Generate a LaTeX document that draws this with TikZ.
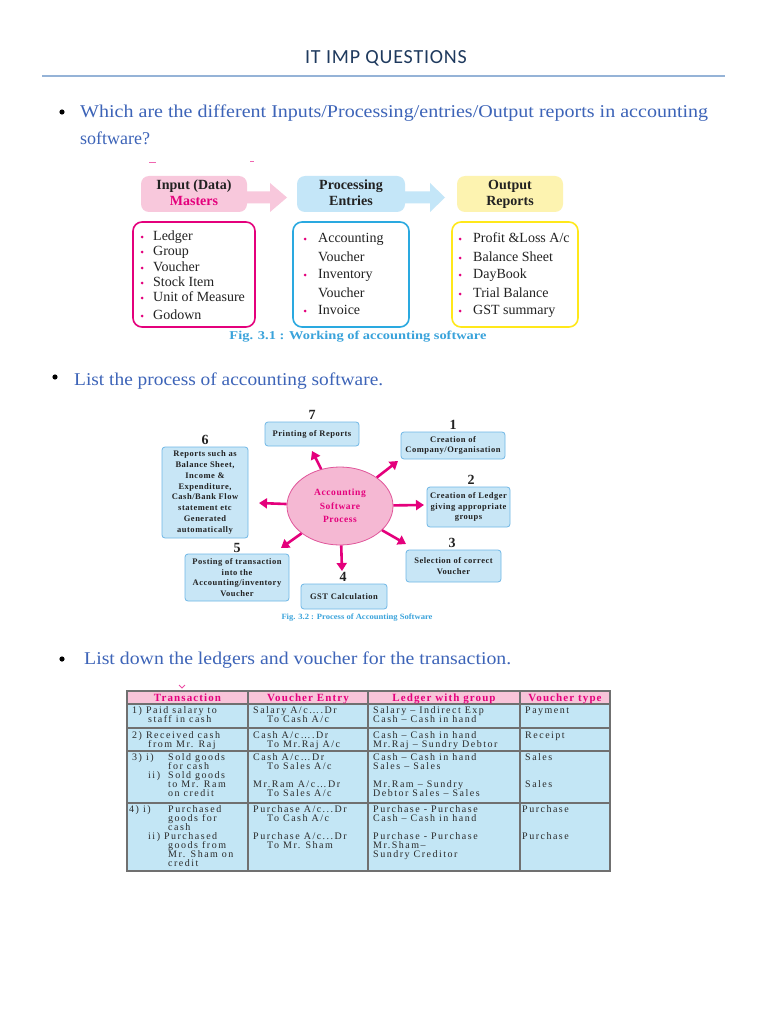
\documentclass[tikz,border=0pt]{standalone}
\usepackage{fontspec}
\setmainfont{Liberation Serif}
\newfontfamily\titlefont[LetterSpace=4]{Carlito}
\newfontfamily\tabfont[LetterSpace=15]{Liberation Serif}
\newfontfamily\tabhfont[LetterSpace=10]{Liberation Serif}
\newfontfamily\figfont[LetterSpace=6]{Liberation Serif}
\usetikzlibrary{arrows.meta,shapes.geometric}
\definecolor{titlec}{HTML}{1F3A5E}
\definecolor{rulec}{HTML}{95B3D7}
\definecolor{qblue}{HTML}{3D64B8}
\definecolor{magenta2}{HTML}{E4007C}
\definecolor{pinkfill}{HTML}{F8C8DC}
\definecolor{hblue}{HTML}{C4E6F8}
\definecolor{cyanb}{HTML}{2AA9E0}
\definecolor{yfill}{HTML}{FDF3B0}
\definecolor{yborder}{HTML}{FFE81A}
\definecolor{capblue}{HTML}{3AA3DB}
\definecolor{boxfill}{HTML}{C8E6F6}
\definecolor{boxblue}{HTML}{6FB7E6}
\definecolor{ellfill}{HTML}{F5B8D3}
\definecolor{elldraw}{HTML}{E0559A}
\definecolor{tabfill}{HTML}{C3E6F5}
\definecolor{thfill}{HTML}{F8C4D9}
\definecolor{tabline}{HTML}{707070}
\definecolor{tabtxt}{HTML}{2A2A2A}
\definecolor{txtdark}{HTML}{222222}
\newcommand\tabc[4]{\node[tcell] (#1) at (#2,#3+3.3) {#4};}
\newcommand\mylist[4]{\node[listtxt] (#1) at (#2,#3+4.5) {#4};}
\tikzset{
  qtext/.style={anchor=base west, inner sep=0, text=qblue, font=\fontsize{18}{20}\selectfont},
  listtxt/.style={anchor=base west, inner sep=0, text=txtdark, font=\fontsize{14}{16}\selectfont},
  hdr/.style={rounded corners=8pt, minimum width=106pt, minimum height=36pt, align=center, inner sep=0, text=txtdark, font=\fontsize{14}{16.5}\selectfont\bfseries},
  listbox/.style={draw, line width=1.6pt, rounded corners=9pt, inner sep=0},
  fbox/.style={draw=boxblue, fill=boxfill, rounded corners=3pt, line width=0.8pt, align=center, inner sep=0, text=txtdark, font=\figfont\bfseries\fontsize{8.5}{10.8}\selectfont},
  numlab/.style={inner sep=0, text=txtdark, font=\fontsize{14}{14}\selectfont\bfseries},
  parr/.style={line width=2.6pt, draw=magenta2, -{Triangle[width=10pt,length=8pt]}},
  tcell/.style={anchor=base west, inner sep=0, text height=6.5pt, text depth=1pt, text=tabtxt, font=\tabfont\fontsize{10}{11}\selectfont},
  thead/.style={anchor=base, inner sep=0, text=magenta2, font=\tabhfont\bfseries\fontsize{11}{12}\selectfont},
  lbul/.style={fill=magenta2},
}
\begin{document}
\begin{tikzpicture}[x=1pt,y=-1pt]
\useasboundingbox (0,0) rectangle (768,1024);
\fill[white] (0,0) rectangle (768,1024);
% title
\node[inner sep=0, text=titlec, font=\titlefont\fontsize{20}{20}\selectfont] (title) at (386,58) {IT IMP QUESTIONS};
\draw[rulec, line width=1.6pt] (42,76) -- (725,76);
% question 1
\fill[black] (62,112) circle (2.6);
\node[qtext] (q1a) at (80,118) {\resizebox{628pt}{\height}{Which are the different Inputs/Processing/entries/Output reports in accounting}};
\node[qtext] (q1b) at (80,145) {software?};
% figure 1
\draw[magenta2!60, line width=1pt] (149,163) -- (156,163) (250,162) -- (254,162);
\fill[pinkfill] (240,191.5) -- (270,191.5) -- (270,183) -- (287,197.5) -- (270,212) -- (270,203.5) -- (240,203.5) -- cycle;
\fill[hblue] (398,191.5) -- (430,191.5) -- (430,183) -- (445,197.5) -- (430,212) -- (430,203.5) -- (398,203.5) -- cycle;
\node[hdr, fill=pinkfill] (hin) at (194,194) {Input (Data)\strut\\\textcolor{magenta2}{Masters}\strut};
\node[hdr, fill=hblue, minimum width=108pt] (hpr) at (351,194) {Processing\strut\\Entries\strut};
\node[hdr, fill=yfill] (hout) at (510,194) {Output\strut\\Reports\strut};
\node[listbox, draw=magenta2, minimum width=122pt, minimum height=105pt] (lb1) at (194,274.5) {};
\node[listbox, draw=cyanb, minimum width=116pt, minimum height=105pt] (lb2) at (351,274.5) {};
\node[listbox, draw=yborder, minimum width=126pt, minimum height=105pt] (lb3) at (515,274.5) {};
\foreach \yy in {236,251,267,282,297,315} \fill[lbul] (142,\yy+1) circle (1.5);
\mylist{p1}{153}{236}{Ledger}
\mylist{p2}{153}{251}{Group}
\mylist{p3}{153}{267}{Voucher}
\mylist{p4}{153}{282}{Stock Item}
\mylist{p5}{153}{297}{Unit of Measure}
\mylist{p6}{153}{315}{Godown}
\foreach \yy in {238,274,310} \fill[lbul] (305,\yy+1) circle (1.5);
\mylist{c1}{318}{238}{Accounting}
\mylist{c2}{318}{257}{Voucher}
\mylist{c3}{318}{274}{Inventory}
\mylist{c4}{318}{293}{Voucher}
\mylist{c5}{318}{310}{Invoice}
\foreach \yy in {238,257,274,293,310} \fill[lbul] (460,\yy+1) circle (1.5);
\mylist{o1}{473}{238}{Profit \&Loss A/c}
\mylist{o2}{473}{257}{Balance Sheet}
\mylist{o3}{473}{274}{DayBook}
\mylist{o4}{473}{293}{Trial Balance}
\mylist{o5}{473}{310}{GST summary}
\node[inner sep=0, text=capblue, font=\bfseries\fontsize{12}{12}\selectfont] (cap1) at (358,337) {\resizebox{257pt}{\height}{Fig. 3.1 : Working of accounting software}};
% question 2
\fill[black] (55,377) circle (2.6);
\node[qtext] (q2) at (74,385) {\resizebox{309pt}{\height}{List the process of accounting software.}};
% figure 2
\node[ellipse, draw=elldraw, fill=ellfill, line width=0.8pt, minimum width=106pt, minimum height=78pt, inner sep=0, align=center, text=magenta2, font=\figfont\bfseries\fontsize{9.5}{13.5}\selectfont] (ell) at (340,506) {Accounting\\Software\\Process};
\node[fbox, minimum width=94pt, minimum height=24pt] (b7) at (312,434) {Printing of Reports};
\node[fbox, minimum width=104pt, minimum height=27pt] (b1) at (453,445.5) {Creation of\\Company/Organisation};
\node[fbox, minimum width=83pt, minimum height=40pt] (b2) at (468.5,507) {Creation of Ledger\\giving appropriate\\groups};
\node[fbox, minimum width=95pt, minimum height=32pt] (b3) at (453.5,566) {Selection of correct\\Voucher};
\node[fbox, minimum width=86pt, minimum height=25pt] (b4) at (344,596.5) {GST Calculation};
\node[fbox, minimum width=104pt, minimum height=47pt] (b5) at (237,577.5) {Posting of transaction\\into the\\Accounting/inventory\\Voucher};
\node[fbox, minimum width=86pt, minimum height=91pt] (b6) at (205,492.5) {Reports such as\\Balance Sheet,\\Income \&\\Expenditure,\\Cash/Bank Flow\\statement etc\\Generated\\automatically};
\node[numlab] (n7) at (312,415) {7};
\node[numlab] (n1) at (453,425) {1};
\node[numlab] (n2) at (471,480) {2};
\node[numlab] (n3) at (452,543) {3};
\node[numlab] (n4) at (343,577) {4};
\node[numlab] (n5) at (237,548) {5};
\node[numlab] (n6) at (205,440) {6};
\coordinate (e7) at (312,451);
\coordinate (e1) at (398,461);
\coordinate (e2) at (424,505);
\coordinate (e3) at (406,544);
\coordinate (e4) at (342,571);
\coordinate (e5) at (281,548);
\coordinate (e6) at (259,503);
\foreach \t in {e7,e1,e2,e3,e4,e5,e6} \draw[parr] (ell) -- (\t);
\node[inner sep=0, text=capblue, font=\bfseries\fontsize{8}{8}\selectfont] (cap2) at (357,618) {\resizebox{151pt}{\height}{Fig. 3.2 : Process of Accounting Software}};
% question 3
\fill[black] (62,659) circle (2.6);
\node[qtext] (q3) at (84,664) {\resizebox{427pt}{\height}{List down the ledgers and voucher for the transaction.}};
% table
\draw[magenta2!70, line width=0.8pt] (179,685) -- (182,688) -- (185,685);
\fill[thfill] (127,691) rectangle (610,704);
\fill[tabfill] (127,704) rectangle (610,871);
\draw[tabline, line width=1.3pt] (127,691) rectangle (610,871);
\draw[tabline, line width=1.1pt] (127,704) -- (610,704) (127,728) -- (610,728) (127,751) -- (610,751) (127,803) -- (610,803);
\draw[tabline, line width=1.3pt] (248,691) -- (248,871) (368,691) -- (368,871) (520,691) -- (520,871);
\node[thead] (h1) at (187.5,701.5) {Transaction};
\node[thead] (h2) at (308,701.5) {Voucher Entry};
\node[thead] (h3) at (444,701.5) {Ledger with group};
\node[thead] (h4) at (565,701.5) {Voucher type};
% column 1
\tabc{a1}{132}{710}{1) Paid salary to}
\tabc{a2}{148}{719}{staff in cash}
\tabc{a3}{132}{735}{2) Received cash}
\tabc{a4}{148}{744}{from Mr. Raj}
\tabc{a5}{132}{757}{3) i)}
\tabc{a6}{168}{757}{Sold goods}
\tabc{a7}{168}{766}{for cash}
\tabc{a8}{148}{775}{ii)}
\tabc{a9}{168}{775}{Sold goods}
\tabc{a10}{168}{784}{to Mr. Ram}
\tabc{a11}{168}{793}{on credit}
\tabc{a12}{129}{809}{4) i)}
\tabc{a13}{168}{809}{Purchased}
\tabc{a14}{168}{818}{goods for}
\tabc{a15}{168}{827}{cash}
\tabc{a16}{148}{836}{ii) Purchased}
\tabc{a17}{168}{845}{goods from}
\tabc{a18}{168}{854}{Mr. Sham on}
\tabc{a19}{168}{863}{credit}
% column 2
\tabc{v1}{253}{710}{Salary A/c….Dr}
\tabc{v2}{267}{719}{To Cash A/c}
\tabc{v3}{253}{735}{Cash A/c….Dr}
\tabc{v4}{267}{744}{To Mr.Raj A/c}
\tabc{v5}{253}{757}{Cash A/c…Dr}
\tabc{v6}{267}{766}{To Sales A/c}
\tabc{v7}{253}{784}{Mr.Ram A/c…Dr}
\tabc{v8}{267}{793}{To Sales A/c}
\tabc{v9}{253}{809}{Purchase A/c...Dr}
\tabc{v10}{267}{818}{To Cash A/c}
\tabc{v11}{253}{836}{Purchase A/c...Dr}
\tabc{v12}{267}{845}{To Mr. Sham}
% column 3
\tabc{l1}{373}{710}{Salary – Indirect Exp}
\tabc{l2}{373}{719}{Cash – Cash in hand}
\tabc{l3}{373}{735}{Cash – Cash in hand}
\tabc{l4}{373}{744}{Mr.Raj – Sundry Debtor}
\tabc{l5}{373}{757}{Cash – Cash in hand}
\tabc{l6}{373}{766}{Sales – Sales}
\tabc{l7}{373}{784}{Mr.Ram – Sundry}
\tabc{l8}{373}{793}{Debtor Sales – Sales}
\tabc{l9}{373}{809}{Purchase - Purchase}
\tabc{l10}{373}{818}{Cash – Cash in hand}
\tabc{l11}{373}{836}{Purchase - Purchase}
\tabc{l12}{373}{845}{Mr.Sham–}
\tabc{l13}{373}{854}{Sundry Creditor}
% column 4
\tabc{t1}{525}{710}{Payment}
\tabc{t2}{525}{735}{Receipt}
\tabc{t3}{525}{757}{Sales}
\tabc{t4}{525}{784}{Sales}
\tabc{t5}{522}{809}{Purchase}
\tabc{t6}{522}{836}{Purchase}
\end{tikzpicture}
\end{document}
